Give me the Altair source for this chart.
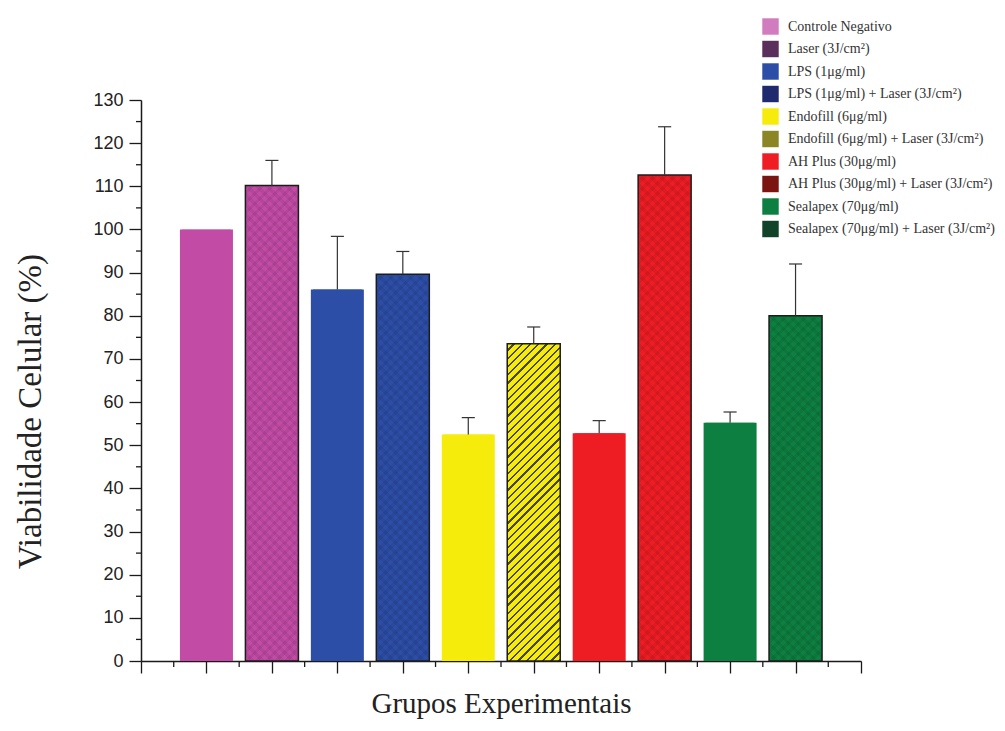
import altair as alt
import pandas as pd

# ---------------- data ----------------
grupos = [
    "Controle Negativo",
    "Laser (3J/cm²)",
    "LPS (1μg/ml)",
    "LPS (1μg/ml) + Laser (3J/cm²)",
    "Endofill (6μg/ml)",
    "Endofill (6μg/ml) + Laser (3J/cm²)",
    "AH Plus (30μg/ml)",
    "AH Plus (30μg/ml) + Laser (3J/cm²)",
    "Sealapex (70μg/ml)",
    "Sealapex (70μg/ml) + Laser (3J/cm²)",
]
posicao = [1, 2, 3, 4, 5, 6, 7, 8, 9, 10]
viabilidade = [100.0, 110.2, 86.1, 89.6, 52.5, 73.5, 52.8, 112.6, 55.2, 80.0]
erro = [0.0, 5.8, 12.3, 5.3, 3.9, 3.9, 2.9, 11.2, 2.5, 12.0]
laser = [False, True, False, True, False, True, False, True, False, True]

cores_barras = ["#c24ba6", "#c24ba6", "#2d4ea7", "#2d4ea7", "#f5ec0c",
                "#f5ec0c", "#ee1d24", "#ee1d24", "#0d7f40", "#0d7f40"]
cores_legenda = ["#d27cc0", "#5a2f5c", "#2d4ea7", "#1f2a6e", "#f5ec0c",
                 "#8c8526", "#ee1d24", "#7a1512", "#0d7f40", "#10432a"]

# axis tick positions
x_ticks_major = [0, 1, 2, 3, 4, 5, 6, 7, 8, 9, 10, 11]
x_ticks_minor = [0.5, 1.5, 2.5, 3.5, 4.5, 5.5, 6.5, 7.5, 8.5, 9.5, 10.5]
y_ticks_major = [0, 10, 20, 30, 40, 50, 60, 70, 80, 90, 100, 110, 120, 130]
y_ticks_minor = [5, 15, 25, 35, 45, 55, 65, 75, 85, 95, 105, 115, 125]

df = pd.DataFrame({
    "grupo": grupos,
    "pos": posicao,
    "viab": viabilidade,
    "err": erro,
    "laser": laser,
})

# ---------------- layout ----------------
PW, PH = 720, 561
YMAX = 130
BAR_W = 53
SERIF = "Liberation Serif"
SANS = "Liberation Sans"
AXIS_C = "#1a1a1a"


def stripe_gradient(value, direction, base, line, period_px, frac):
    """Diagonal stripe fill computed in the bar's bounding box."""
    H = value * PH / YMAX
    W = BAR_W
    r = H / W
    a = (1 + r) / (1 + r * r)
    if direction == "/":
        x1, y1, x2, y2 = 0, 0, a, a * r
    else:
        x1, y1, x2, y2 = 0, 1, a, 1 - a * r
    length = (W + H) / 2 ** 0.5
    n = max(1, int(round(length / period_px)))
    stops = []
    for k in range(n):
        t0 = k / n
        t1 = (k + 1 - frac) / n
        t2 = (k + 1) / n
        stops += [
            alt.GradientStop(offset=t0, color=base),
            alt.GradientStop(offset=t1, color=base),
            alt.GradientStop(offset=t1, color=line),
            alt.GradientStop(offset=t2, color=line),
        ]
    return alt.LinearGradient(gradient="linear", stops=stops,
                              x1=x1, y1=y1, x2=x2, y2=y2)


base = alt.Chart(df)

x_scale = alt.Scale(domain=[0, 11], nice=False, zero=False, padding=0)
y_scale = alt.Scale(domain=[0, YMAX], nice=False, padding=0)

x_enc = alt.X(
    "pos:Q",
    scale=x_scale,
    axis=alt.Axis(
        values=x_ticks_major,
        labels=False,
        grid=False,
        domainColor=AXIS_C,
        domainWidth=1.5,
        tickColor=AXIS_C,
        tickWidth=1.3,
        tickSize=12,
        title="Grupos Experimentais",
        titleFont=SERIF,
        titleFontSize=29,
        titleFontWeight="normal",
        titleColor="#222222",
        titleBaseline="alphabetic",
        titleY=51,
    ),
)

y_enc = alt.Y(
    "viab:Q",
    scale=y_scale,
    axis=alt.Axis(
        values=y_ticks_major,
        grid=False,
        domainColor=AXIS_C,
        domainWidth=1.5,
        tickColor=AXIS_C,
        tickWidth=1.3,
        tickSize=12,
        labelFont=SANS,
        labelFontSize=18,
        labelColor="#222222",
        labelPadding=6,
        title="Viabilidade Celular (%)",
        titleFont=SERIF,
        titleFontSize=33,
        titleFontWeight="normal",
        titleColor="#222222",
        titleAngle=270,
        titleAlign="center",
        titleBaseline="middle",
        titleX=-111,
        titleY=311,
    ),
)

# hidden layer underneath the bars: only used to build the legend
legend_layer = base.mark_bar(size=BAR_W - 4).encode(
    x=x_enc,
    y=y_enc,
    fill=alt.Fill(
        "grupo:N",
        scale=alt.Scale(domain=grupos, range=cores_legenda),
        legend=alt.Legend(
            title=None,
            orient="none",
            legendX=621,
            legendY=-82,
            symbolType="square",
            symbolSize=270,
            symbolStrokeWidth=0,
            labelFont=SERIF,
            labelFontSize=14,
            labelColor="#333333",
            labelLimit=0,
            labelOffset=9,
            rowPadding=5.5,
            padding=0,
        ),
    ),
)

bars = base.mark_bar(size=BAR_W).encode(
    x="pos:Q",
    y="viab:Q",
    color=alt.Color("grupo:N", scale=alt.Scale(domain=grupos, range=cores_barras), legend=None),
)

layers = [legend_layer, bars]

# texture + outline for the laser groups
for g, v, c, lz in zip(grupos, viabilidade, cores_barras, laser):
    if not lz:
        continue
    sel = base.transform_filter(alt.datum.grupo == g)
    if g.startswith("Endofill"):
        grad = stripe_gradient(v, "/", c, "#4b4718", 5.8, 0.28)
        layers.append(sel.mark_bar(size=BAR_W, fill=grad, stroke="#1c1c1c",
                                   strokeWidth=1.5).encode(x="pos:Q", y="viab:Q"))
    else:
        g1 = stripe_gradient(v, "/", "rgba(0,0,0,0)", "rgba(0,0,0,0.07)", 7.0, 0.45)
        g2 = stripe_gradient(v, "\\", "rgba(0,0,0,0)", "rgba(0,0,0,0.07)", 7.0, 0.45)
        layers.append(sel.mark_bar(size=BAR_W, fill=g1).encode(x="pos:Q", y="viab:Q"))
        layers.append(sel.mark_bar(size=BAR_W, fill=g2, stroke="#1c1c1c",
                                   strokeWidth=1.5).encode(x="pos:Q", y="viab:Q"))

err_base = base.transform_filter(alt.datum.err > 0).transform_calculate(
    sup="datum.viab + datum.err",
    lo="datum.pos - 0.1",
    hi="datum.pos + 0.1",
)

err_line = err_base.mark_rule(color="#333333", strokeWidth=1.2).encode(
    x="pos:Q", y="viab:Q", y2="sup:Q"
)
err_cap = err_base.mark_rule(color="#333333", strokeWidth=1.2).encode(
    x="lo:Q", x2="hi:Q", y="sup:Q"
)
layers += [err_line, err_cap]

# minor ticks (half the length of the major ones)
xminor = alt.Chart(pd.DataFrame({"pos": x_ticks_minor})).mark_rule(
    color=AXIS_C, strokeWidth=1.3
).encode(x="pos:Q", y=alt.value(PH), y2=alt.value(PH + 6))
yminor = alt.Chart(pd.DataFrame({"viab": y_ticks_minor})).mark_rule(
    color=AXIS_C, strokeWidth=1.3
).encode(y="viab:Q", x=alt.value(0), x2=alt.value(-5))
layers += [xminor, yminor]

chart = alt.layer(*layers).properties(
    width=PW,
    height=PH,
    autosize=alt.AutoSizeParams(type="none"),
    padding={"left": 133, "top": 92, "right": 136, "bottom": 62},
    background="white",
).configure_view(stroke=None)

chart.save("out.html", embed_options={"renderer": "svg", "actions": False})
